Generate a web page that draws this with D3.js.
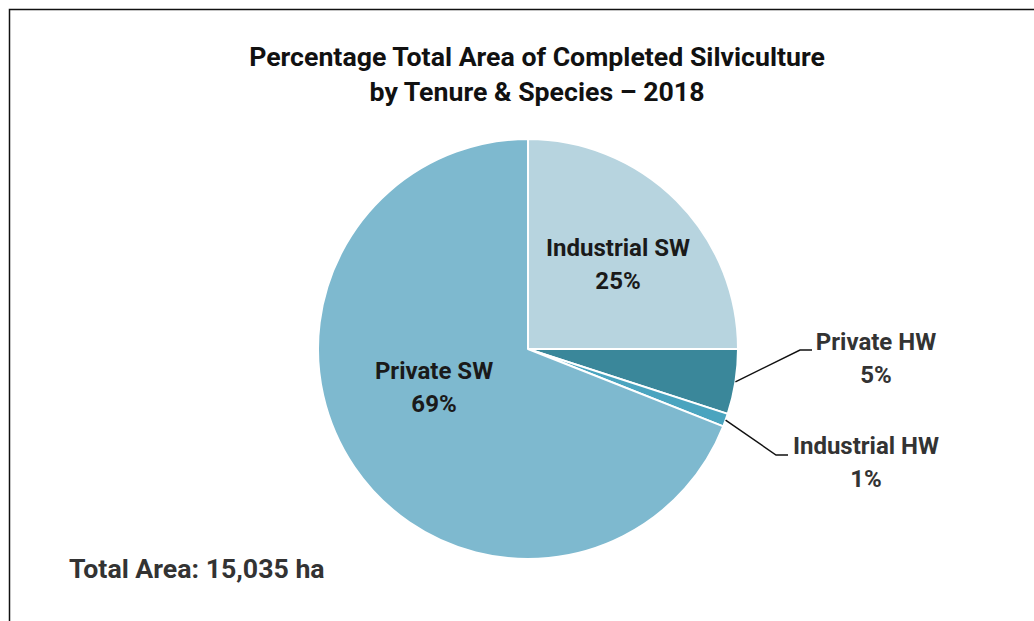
<!DOCTYPE html>
<html>
<head>
<meta charset="utf-8">
<script src="https://cdn.jsdelivr.net/npm/d3@7.9.0/dist/d3.min.js"></script>
<style>
  body { margin: 0; background: #fff; }
  svg { font-family: Roboto, "Noto Sans", sans-serif; }
</style>
</head>
<body>
<svg id="chart"></svg>
<script>
// --- Data ---
const categories = ["Industrial SW", "Private HW", "Industrial HW", "Private SW"];
const shares = [25, 5, 1, 69];
const colors = ["#b7d4df", "#3a879a", "#4aa4bf", "#7eb9cf"];
const title = ["Percentage Total Area of Completed Silviculture", "by Tenure & Species \u2013 2018"];
const totalNote = "Total Area: 15,035 ha";

const width = 1034, height = 621;
const cx = 528, cy = 349, radius = 210;

// label layout (offsets from pie centre), Excel-style
const labelLayout = {
  "Industrial SW": { x: 90, y: -92, outside: false },
  "Private SW":    { x: -94, y: 31, outside: false },
  "Private HW":    { x: 348, y: 2, elbow: [272, 1], outside: true },
  "Industrial HW": { x: 338, y: 106, elbow: [248, 106], outside: true }
};

const svg = d3.select("#chart").attr("width", width).attr("height", height);

// frame
svg.append("rect")
  .attr("x", 9.5).attr("y", 9.5)
  .attr("width", width + 20).attr("height", height + 20)
  .attr("fill", "none").attr("stroke", "#111").attr("stroke-width", 1.5);

// title
svg.append("g").selectAll("text")
  .data(title)
  .join("text")
  .attr("x", 537)
  .attr("y", (d, i) => 66 + i * 35)
  .attr("text-anchor", "middle")
  .attr("font-size", 26.7)
  .attr("font-weight", "bold")
  .attr("fill", "#111")
  .text(d => d);

const data = categories.map((c, i) => ({ name: c, value: shares[i], color: colors[i] }));

const pie = d3.pie().value(d => d.value).sort(null);
const arc = d3.arc().innerRadius(0).outerRadius(radius);
const arcs = pie(data);

const g = svg.append("g").attr("transform", `translate(${cx},${cy})`);

g.selectAll("path")
  .data(arcs)
  .join("path")
  .attr("d", arc)
  .attr("fill", d => d.data.color)
  .attr("stroke", "#fff")
  .attr("stroke-width", 2)
  .attr("stroke-linejoin", "round");

// leader lines for outside labels
const edge = d3.arc().innerRadius(radius).outerRadius(radius);
arcs.filter(d => labelLayout[d.data.name].outside).forEach(d => {
  const [x0, y0] = edge.centroid(d);
  const [bx, by] = labelLayout[d.data.name].elbow;
  g.append("polyline")
    .attr("points", [[x0, y0], [bx, by], [bx + 12, by]].map(p => p.join(",")).join(" "))
    .attr("fill", "none").attr("stroke", "#111").attr("stroke-width", 1.5);
});

// labels
const labels = g.selectAll("g.label")
  .data(arcs)
  .join("g")
  .attr("class", "label")
  .attr("transform", d => {
    const p = labelLayout[d.data.name];
    return `translate(${p.x},${p.y})`;
  })
  .attr("fill", d => labelLayout[d.data.name].outside ? "#333" : "#1a1a1a");
labels.append("text")
  .attr("text-anchor", "middle").attr("y", -1)
  .attr("font-size", 24).attr("font-weight", "bold")
  .text(d => d.data.name);
labels.append("text")
  .attr("text-anchor", "middle").attr("y", 32)
  .attr("font-size", 24).attr("font-weight", "bold")
  .text(d => d.data.value + "%");

// total note
svg.append("text")
  .attr("x", 69).attr("y", 578)
  .attr("font-size", 26.7).attr("font-weight", "bold").attr("fill", "#333")
  .text(totalNote);
</script>
</body>
</html>
